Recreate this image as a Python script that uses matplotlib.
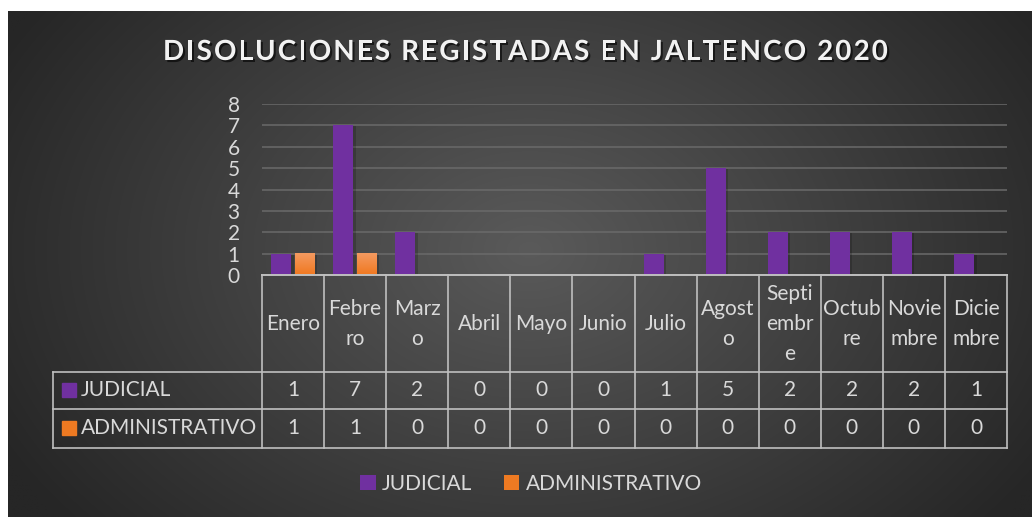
import matplotlib
matplotlib.use("Agg")
import matplotlib.pyplot as plt
import matplotlib.patheffects as pe
from matplotlib.patches import Rectangle
from matplotlib.transforms import blended_transform_factory
from matplotlib.colors import LinearSegmentedColormap
import numpy as np

# data
meses = ["Enero", "Febrero", "Marzo", "Abril", "Mayo", "Junio", "Julio",
         "Agosto", "Septiembre", "Octubre", "Noviembre", "Diciembre"]
# the month names as they wrap in the table header
meses_tabla = [["Enero"], ["Febre", "ro"], ["Marz", "o"], ["Abril"], ["Mayo"],
               ["Junio"], ["Julio"], ["Agost", "o"], ["Septi", "embr", "e"],
               ["Octub", "re"], ["Novie", "mbre"], ["Dicie", "mbre"]]
judicial = [1, 7, 2, 0, 0, 0, 1, 5, 2, 2, 2, 1]
administrativo = [1, 1, 0, 0, 0, 0, 0, 0, 0, 0, 0, 0]
series = ["JUDICIAL", "ADMINISTRATIVO"]
titulo = "DISOLUCIONES REGISTADAS EN JALTENCO 2020"

MORADO = "#7030A0"
NARANJA = "#EE7A22"
TXT = "#D9D9D9"
LINEA = "#BFBFBF"
FONT = "Lato"

W, H = 1032, 517
def fx(px):
    return px / W
def fy(py):
    return 1 - py / H

fig = plt.figure(figsize=(W / 100, H / 100), dpi=100, facecolor="white")

# dark radial background
bg = fig.add_axes([fx(8), 0, 1 - fx(8), fy(11)])
bg.set_axis_off()
gx, gy = np.meshgrid(np.linspace(8, 1032, 400), np.linspace(11, 517, 200))
r = np.sqrt(((gx - 530) / 600.0) ** 2 + ((gy - 250) / 430.0) ** 2)
r = np.clip(r, 0, 1)
c0, c1 = 0x5a / 255, 0x26 / 255
val = c0 + (c1 - c0) * r
img = np.dstack([val, val, val])
bg.imshow(img, aspect="auto", extent=[0, 1, 0, 1], interpolation="bilinear")
bg.set_xlim(0, 1)
bg.set_ylim(0, 1)

# plot area
ax = fig.add_axes([fx(262), fy(275), fx(1007) - fx(262), (275 - 104) / H])
ax.patch.set_visible(False)
x = np.arange(len(meses))
ancho = 0.32
b1 = ax.bar(x - 0.19, judicial, ancho, color=MORADO, label=series[0], zorder=3)
b2 = ax.bar(x + 0.19, administrativo, ancho, color=NARANJA, label=series[1], zorder=3)

# light top on the orange bars
grad = np.linspace(0, 1, 100).reshape(-1, 1)
cm_nar = LinearSegmentedColormap.from_list("nar", ["#F07820", "#F49A60"])
for b in b2:
    h = b.get_height()
    if h > 0:
        x0 = b.get_x()
        ax.imshow(grad, cmap=cm_nar, origin="lower", aspect="auto",
                  extent=[x0, x0 + b.get_width(), 0, h], zorder=3.5)

# soft shadows
for b in list(b1) + list(b2):
    h = b.get_height()
    if h > 0:
        ax.add_patch(Rectangle((b.get_x() + 0.04, 0), b.get_width(), h - 0.05,
                               color="black", alpha=0.18, zorder=2, lw=0))

ax.set_xlim(-0.5, 11.5)
ax.set_ylim(0, 8)
ax.set_yticks(range(0, 9))
ax.set_xticks([])
ax.tick_params(axis="y", length=0, pad=16, labelsize=15, labelcolor=TXT)
for lab in ax.get_yticklabels():
    lab.set_fontfamily(FONT)
ax.grid(axis="y", color="#6a6a6a", lw=1.1, zorder=0)
for s in ax.spines.values():
    s.set_visible(False)

# data table under the axis
pos = ax.get_position()
tr = blended_transform_factory(ax.transData, fig.transFigure)
for i in range(len(meses) + 1):
    ax.plot([i - 0.5, i - 0.5], [fy(275), fy(448)], transform=tr, color=LINEA,
            lw=1.2, clip_on=False, zorder=5)
ax.plot([-0.5, 11.5], [fy(275), fy(275)], transform=tr, color=LINEA, lw=1.4,
        clip_on=False, zorder=5)
for yy in (372, 409, 448):
    fig.add_artist(plt.Line2D([fx(53), pos.x1], [fy(yy), fy(yy)], color=LINEA, lw=1.2))
fig.add_artist(plt.Line2D([fx(53), fx(53)], [fy(372), fy(448)], color=LINEA, lw=1.2))

for i, partes in enumerate(meses_tabla):
    n = len(partes)
    for j, p in enumerate(partes):
        yc = 324 + (j - (n - 1) / 2) * 30
        ax.text(i, fy(yc), p, transform=tr, ha="center", va="center",
                fontsize=15, color=TXT, family=FONT, clip_on=False)

filas = [(judicial, 390, MORADO), (administrativo, 428, NARANJA)]
for (vals, yc, col), nombre in zip(filas, series):
    for i, v in enumerate(vals):
        ax.text(i, fy(yc), str(v), transform=tr, ha="center", va="center",
                fontsize=15, color=TXT, family=FONT, clip_on=False)
    fig.add_artist(Rectangle((fx(62), fy(yc + 7)), fx(14), 14 / H, color=col))
    fig.text(fx(81), fy(yc), nombre, ha="left", va="center", fontsize=15,
             color=TXT, family=FONT)

# legend
leg = fig.legend(handles=[b1, b2], labels=series, loc="center",
                 bbox_to_anchor=(fx(531), fy(484)), ncol=2, frameon=False,
                 handlelength=0.75, handleheight=0.75, handletextpad=0.3,
                 columnspacing=1.5, prop={"family": FONT, "size": 15})
for t in leg.get_texts():
    t.set_color(TXT)

# title with letter spacing
fig.canvas.draw()
rend = fig.canvas.get_renderer()
kw = dict(fontsize=20, fontweight="bold", family=FONT)
def ancho_px(s):
    t = fig.text(0, 0, s, **kw)
    w = t.get_window_extent(rend).width
    t.remove()
    return w
total = ancho_px(titulo)
esp = (725 - total) / (len(titulo) - 1)
x0 = 163
for k, ch in enumerate(titulo):
    if ch == " ":
        continue
    izq = ancho_px(titulo[:k + 1]) - ancho_px(ch)
    fig.text(fx(x0 + izq + k * esp), fy(52), ch, ha="left", va="center",
             color="#F2F2F2", **kw,
             path_effects=[pe.withSimplePatchShadow(offset=(1.5, -1.5),
                                                    shadow_rgbFace="black", alpha=0.6)])

fig.savefig("out.png", dpi=100, facecolor="white")
